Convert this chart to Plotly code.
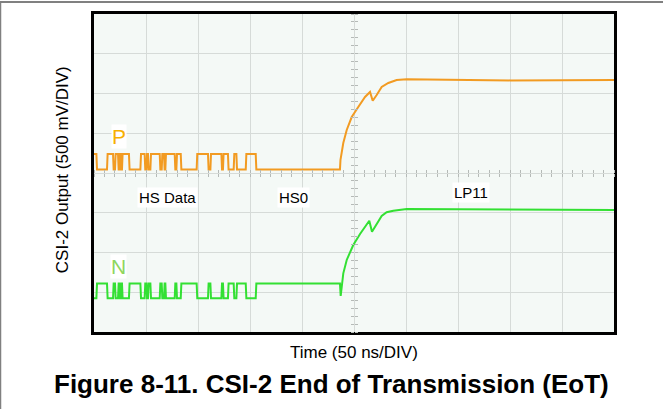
import plotly.graph_objects as go

# Horizontal scale: 50 ns/DIV over 10 divisions; vertical: 500 mV/DIV over 8 divisions
time_range_ns = [0, 500]
volt_range_mv = [-2000, 2000]

# HS burst on the differential pair: segment boundaries (ns) and P-line state per segment
hs_edges_ns = [0, 2.6, 12.8, 18.6, 20.5, 23.4, 24.7, 26.0, 27.2, 33.9, 44.9, 49.0,
               50.7, 52.2, 54.5, 63.5, 65.4, 67.6, 68.9, 77.9, 79.5, 83.7, 99.0,
               109.9, 112.2, 122.8, 124.3, 129.1, 134.6, 137.2, 146.2, 155.8]
hs_p_states = [1, 0, 1, 0, 1, 0, 1, 0, 1, 0, 1, 0, 1, 0, 1, 0, 1, 0, 1, 0, 1, 0,
               1, 0, 1, 0, 1, 0, 1, 0, 1]
hs0_end_ns = 236.5

# Display levels (mV on screen, channel offsets included)
p_hs_high, p_hs_low = 240, 45
n_hs_high, n_hs_low = -1390, -1575

# Transition from HS0 to LP11
p_lp_t = [236.5, 237.0, 239.7, 243.0, 247.8, 254.1, 260.6, 265.4, 268.0, 271.8,
          276.6, 283.0, 291.0, 300.7, 400.0, 500.0]
p_lp_v = [45, 165, 377, 541, 704, 830, 956, 1019, 909, 981, 1082, 1132, 1170,
          1179, 1165, 1170]
n_lp_t = [236.5, 237.2, 238.1, 239.7, 243.0, 249.3, 255.8, 260.6, 264.7, 267.3,
          271.8, 276.6, 281.4, 287.8, 300.7, 400.0, 500.0]
n_lp_v = [-1390, -1547, -1430, -1262, -1094, -906, -767, -675, -600, -738, -642,
          -541, -494, -474, -453, -462, -465]

labels = ["HS Data", "HS0", "LP11"]
label_t = [70.2, 192.3, 362.2]
label_v = [-302, -302, -248]

P_COLOR = "#f29b22"
N_COLOR = "#33e033"
FONT = "Liberation Sans, Arial, sans-serif"


def build_line(states, high, low, lp_t, lp_v, invert=False):
    xs, ys = [], []
    edge = 0.3
    for i, s in enumerate(states):
        t0, t1 = hs_edges_ns[i], hs_edges_ns[i + 1]
        on = (s == 0) if invert else (s == 1)
        lvl = high if on else low
        xs += [t0 + (edge if i else 0), t1 - edge]
        ys += [lvl, lvl]
    idle = high if invert else low
    xs += [hs_edges_ns[-1] + edge, hs0_end_ns]
    ys += [idle, idle]
    xs += lp_t[1:]
    ys += lp_v[1:]
    return xs, ys


px, py = build_line(hs_p_states, p_hs_high, p_hs_low, p_lp_t, p_lp_v)
nx, ny = build_line(hs_p_states, n_hs_high, n_hs_low, n_lp_t, n_lp_v, invert=True)

fig = go.Figure()
fig.add_trace(go.Scatter(x=px, y=py, mode="lines", line=dict(color=P_COLOR, width=2),
                         hoverinfo="skip", showlegend=False))
fig.add_trace(go.Scatter(x=nx, y=ny, mode="lines", line=dict(color=N_COLOR, width=2),
                         hoverinfo="skip", showlegend=False))
# helper traces so the centre-line tick axes are drawn
for xa, ya in [("x2", "y"), ("x3", "y"), ("x", "y2"), ("x", "y3")]:
    fig.add_trace(go.Scatter(x=[None], y=[None], xaxis=xa, yaxis=ya, mode="lines",
                             hoverinfo="skip", showlegend=False))

grid = "#d6dbd8"
fig.update_layout(
    width=663, height=409,
    margin=dict(l=94, r=49, t=14, b=77),
    paper_bgcolor="white",
    plot_bgcolor="#f4f9f6",
    font=dict(family=FONT, color="black"),
    xaxis=dict(range=time_range_ns, dtick=50, showgrid=True, gridcolor=grid, gridwidth=1,
               zeroline=False, showticklabels=False, ticks="", showline=True,
               linecolor="black", linewidth=3, mirror=True, fixedrange=True),
    yaxis=dict(range=volt_range_mv, dtick=500, showgrid=True, gridcolor=grid, gridwidth=1,
               zeroline=False, showticklabels=False, ticks="", showline=True,
               linecolor="black", linewidth=3, mirror=True, fixedrange=True),
    xaxis2=dict(overlaying="x", anchor="free", position=0.5, side="bottom",
                range=time_range_ns, dtick=10, ticks="outside", ticklen=3,
                tickcolor="#b5bab7", showticklabels=False, showgrid=False,
                zeroline=False, showline=False),
    xaxis3=dict(overlaying="x", anchor="free", position=0.5, side="top",
                range=time_range_ns, dtick=10, ticks="outside", ticklen=3,
                tickcolor="#b5bab7", showticklabels=False, showgrid=False,
                zeroline=False, showline=False),
    yaxis2=dict(overlaying="y", anchor="free", position=0.5, side="left",
                range=volt_range_mv, dtick=100, ticks="outside", ticklen=3,
                tickcolor="#b5bab7", showticklabels=False, showgrid=False,
                zeroline=False, showline=False),
    yaxis3=dict(overlaying="y", anchor="free", position=0.5, side="right",
                range=volt_range_mv, dtick=100, ticks="outside", ticklen=3,
                tickcolor="#b5bab7", showticklabels=False, showgrid=False,
                zeroline=False, showline=False),
)

# state labels on white boxes
for txt, t, v in zip(labels, label_t, label_v):
    fig.add_annotation(x=t, y=v, xref="x", yref="y", text=txt, showarrow=False,
                       bgcolor="white", borderpad=1,
                       font=dict(size=15, family=FONT, color="black"))

fig.add_annotation(x=24, y=453, xref="x", yref="y", text="P", showarrow=False,
                   bgcolor="white", borderpad=0,
                   font=dict(size=21, family=FONT, color="#f7b000"))
fig.add_annotation(x=24, y=-1170, xref="x", yref="y", text="N", showarrow=False,
                   bgcolor="white", borderpad=0,
                   font=dict(size=21, family=FONT, color="#8fd65e"))

# axis titles and figure caption
fig.add_annotation(x=-0.0615, y=0.509, xref="paper", yref="paper",
                   text="CSI-2 Output (500 mV/DIV)", textangle=-90, showarrow=False,
                   xanchor="center", yanchor="middle",
                   font=dict(size=17, family=FONT, color="black"))
fig.add_annotation(x=0.5, y=-0.0629, xref="paper", yref="paper",
                   text="Time (50 ns/DIV)", showarrow=False,
                   xanchor="center", yanchor="middle",
                   font=dict(size=17, family=FONT, color="black"))
fig.add_annotation(x=0.4567, y=-0.1635, xref="paper", yref="paper",
                   text="<b>Figure 8-11. CSI-2 End of Transmission (EoT)</b>",
                   showarrow=False, xanchor="center", yanchor="middle",
                   font=dict(size=26, family=FONT, color="black"))

# page rules: top and left edges
fig.add_shape(type="line", xref="paper", yref="paper", x0=-0.181, x1=1.095,
              y0=1.0377, y1=1.0377, line=dict(color="#808080", width=2))
fig.add_shape(type="line", xref="paper", yref="paper", x0=-0.1798, x1=-0.1798,
              y0=1.04, y1=-0.245, line=dict(color="#808080", width=1.5))

fig.write_html("out.html")
